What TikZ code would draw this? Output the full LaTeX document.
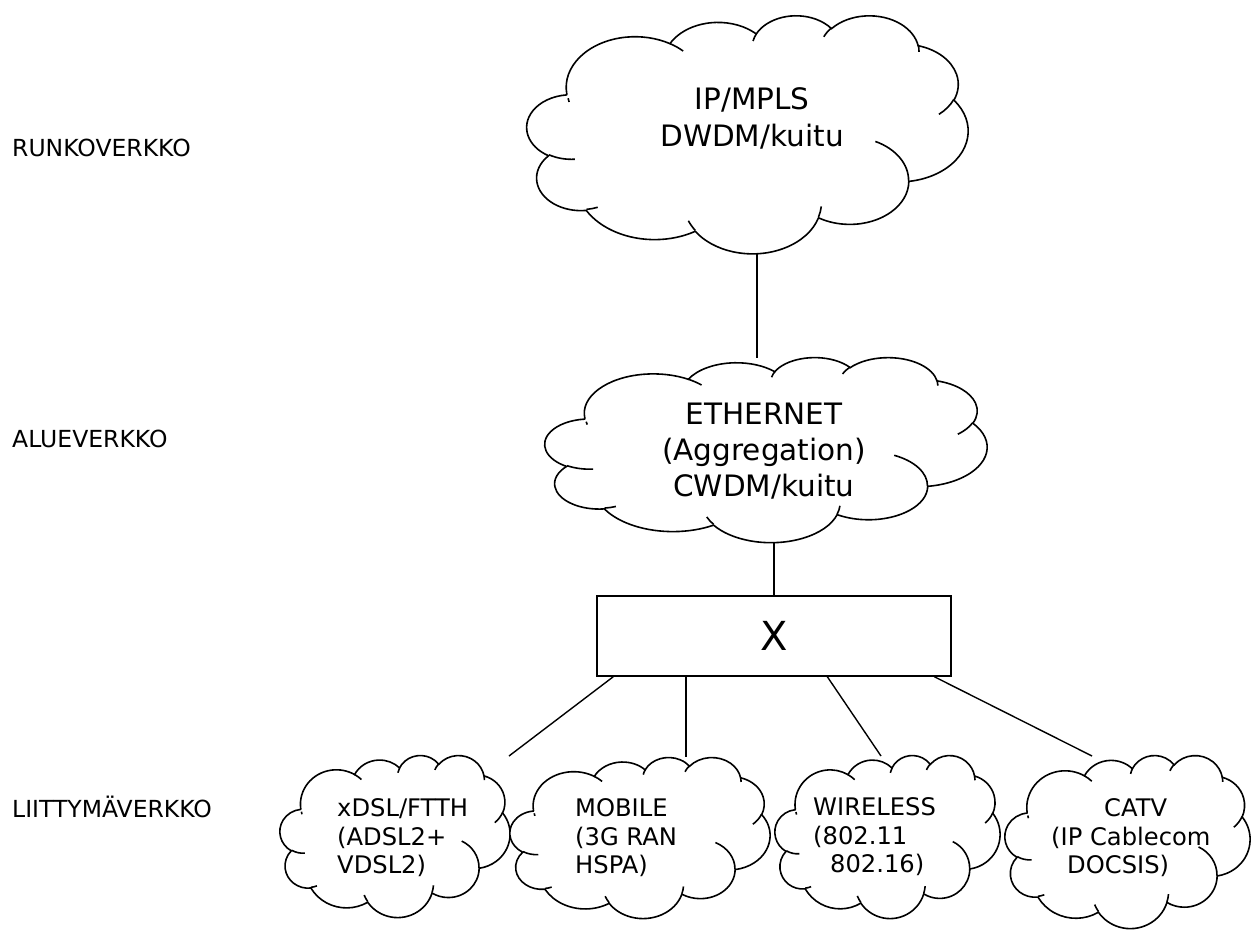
\documentclass[tikz,border=0pt]{standalone}
\usepackage{fontspec}
\setmainfont{DejaVu Sans}
% elliptical arc given as in DrawingML (visual angles, y pointing down)
\newcommand\carc[4]{%
  \pgfmathsetmacro\cts{atan2((#1)*sin(#3),(#2)*cos(#3))}%
  \pgfmathsetmacro\cte{atan2((#1)*sin((#3)+(#4)),(#2)*cos((#3)+(#4)))}%
  \pgfmathsetmacro\ctd{mod(\cte-(\cts)+720,360)}%
  \pgfmathsetmacro\ctf{\cts+\ctd}%
  \pgfpatharcaxes{\cts}{\ctf}{\pgfpointxy{#1}{0}}{\pgfpointxy{0}{#2}}}
\newcommand\ocm[2]{\pgfpathmoveto{\pgfpointadd{\pgfpoint{\ocx pt}{-\ocy pt}}{\pgfpointxy{#1}{#2}}}}
% cloud in the box (x0,y0)-(x1,y1), pixel coordinates, y down
\newcommand\officecloud[4]{%
  \pgfmathsetmacro\ocw{((#3)-(#1))/43.2}%
  \pgfmathsetmacro\och{((#4)-(#2))/43.2}%
  \def\ocx{#1}\def\ocy{#2}%
  \begin{scope}[x={(\ocw pt,0pt)},y={(0pt,-\och pt)}]
    \pgfsetlinewidth{1.6pt}\pgfsetfillcolor{white}\pgfsetstrokecolor{black}%
    \ocm{3.9}{14.37}%
    \carc{6.753}{9.190}{-190.48748}{123.78053}%
    \carc{5.333}{7.267}{-144.10238}{89.94523}%
    \carc{4.365}{5.945}{-145.80792}{99.72302}%
    \carc{4.857}{6.595}{-130.98607}{117.24173}%
    \carc{5.333}{7.273}{-78.70888}{109.02692}%
    \carc{6.775}{9.220}{-46.26725}{130.26900}%
    \carc{5.785}{7.867}{0.62502}{114.03333}%
    \carc{6.752}{9.215}{22.45160}{115.17255}%
    \carc{7.720}{10.543}{66.24263}{75.71102}%
    \carc{4.360}{5.918}{-274.94208}{146.73557}%
    \carc{4.345}{5.945}{-246.82850}{152.51885}%
    \pgfpathclose
    \pgfusepath{fill,stroke}%
    \ocm{4.693}{26.177}\carc{4.345}{5.945}{86.742}{26.4295}%
    \ocm{6.928}{34.899}\carc{4.360}{5.918}{73.61047}{11.44747}%
    \ocm{16.478}{39.090}\carc{6.752}{9.215}{137.62415}{14.0811}%
    \ocm{28.827}{34.751}\carc{6.752}{9.215}{6.45327}{15.99835}%
    \ocm{34.129}{22.954}\carc{5.785}{7.867}{-70.29235}{70.91737}%
    \ocm{41.798}{15.354}\carc{5.333}{7.273}{30.31803}{27.7515}%
    \ocm{38.324}{5.426}\carc{4.857}{6.595}{-13.74433}{14.8589}%
    \ocm{29.078}{3.952}\carc{4.857}{6.595}{-149.18145}{18.19537}%
    \ocm{22.141}{4.720}\carc{4.365}{5.945}{-163.49427}{17.68635}%
    \ocm{14.000}{5.192}\carc{6.753}{9.190}{-66.70695}{12.31935}%
    \ocm{4.127}{15.789}\carc{6.753}{9.190}{162.03627}{5.71407}%
    \pgfusepath{stroke}%
  \end{scope}}
\begin{document}
\begin{tikzpicture}[x=1pt,y=-1pt,
  conn/.style={line width=1.4pt,black},
  lvl/.style={anchor=base west,inner sep=0pt,font=\fontsize{23.5}{28}\selectfont},
  bigtxt/.style={align=center,inner sep=0pt,font=\fontsize{29.5}{37}\selectfont},
  smalltxt/.style={align=left,inner sep=0pt,anchor=west,font=\fontsize{24.2}{28.5}\selectfont},
  xboxst/.style={draw,line width=1.4pt,minimum width=354pt,minimum height=80pt,inner sep=0pt,font=\fontsize{40}{42}\selectfont}]
\useasboundingbox (0,0) rectangle (1251,930);
% clouds
\officecloud{527}{15}{968}{253}
\officecloud{545}{357}{987}{542}
\officecloud{280}{755}{510}{917}
\officecloud{510}{757}{770}{918}
\officecloud{775}{755}{1000}{918}
\officecloud{1005}{755}{1250}{928}
% level labels
\node[lvl] (runko) at (12,156) {RUNKOVERKKO};
\node[lvl] (alue) at (12,447) {ALUEVERKKO};
\node[lvl] (liitty) at (12,817) {LIITTYMÄVERKKO};
% cloud texts
\node[bigtxt] (core) at (752,118) {IP/MPLS\\DWDM/kuitu};
\node[bigtxt,font=\fontsize{29.5}{36}\selectfont] (eth) at (764,451) {ETHERNET\\(Aggregation)\\CWDM/kuitu};
\node[xboxst] (xbox) at (774,636) {X};
\node[smalltxt] (xdsl) at (337,838) {xDSL/FTTH\\(ADSL2+\\VDSL2)};
\node[smalltxt] (mobile) at (575,838) {MOBILE\\(3G RAN\\HSPA)};
\node[smalltxt] (wireless) at (813,837) {WIRELESS\\(802.11\\\hspace*{17pt}802.16)};
\node[smalltxt] (catv) at (1051,838) {\hspace*{53pt}CATV\\(IP Cablecom\\\hspace*{16pt}DOCSIS)};
% connector end points
\coordinate (coreB) at (757,253);
\coordinate (ethT) at (757,358);
\coordinate (ethB) at (774,542);
\coordinate (xdslT) at (509,756);
\coordinate (mobT) at (686,757);
\coordinate (wirT) at (881,756);
\coordinate (catvT) at (1092,756);
% connectors
\draw[conn] (coreB) -- (ethT);
\draw[conn] (ethB) -- (xbox.north);
\draw[conn] (xbox.south west) ++(17,0) -- (xdslT);
\draw[conn] (xbox.south -| mobT) -- (mobT);
\draw[conn] (xbox.south west) ++(231,0) -- (wirT);
\draw[conn] (xbox.south west) ++(338,0) -- (catvT);
\end{tikzpicture}
\end{document}
